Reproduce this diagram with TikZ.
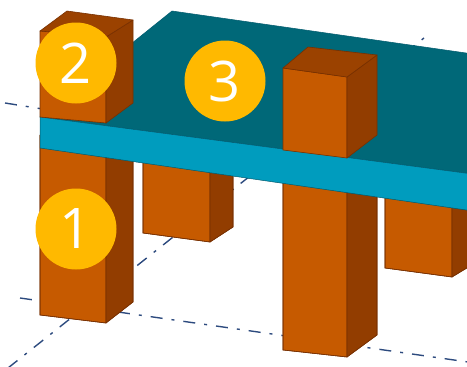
\documentclass[tikz,border=0pt]{standalone}
\usepackage{fontspec}
\setmainfont{Open Sans}
\definecolor{orF}{RGB}{198,90,0}
\definecolor{orS}{RGB}{146,61,0}
\definecolor{orT}{RGB}{155,66,0}
\definecolor{edgeC}{RGB}{120,48,0}
\definecolor{tealC}{RGB}{0,104,120}
\definecolor{bandC}{RGB}{0,156,190}
\definecolor{bandEdge}{RGB}{0,90,110}
\definecolor{badgeC}{RGB}{255,185,0}
\definecolor{gridC}{RGB}{44,74,126}
\begin{document}
\begin{tikzpicture}[x=1pt,y=-1pt,
  frontface/.style={fill=orF, draw=edgeC, line width=0.6pt, line join=round},
  sideface/.style={fill=orS, draw=edgeC, line width=0.6pt, line join=round},
  topface/.style={fill=orT, draw=edgeC, line width=0.6pt, line join=round},
  gridline/.style={draw=gridC, line width=1.4pt, dash pattern=on 12pt off 9pt on 3pt off 9pt},
  badge/.style={circle, fill=badgeC, minimum size=81pt, inner sep=0pt, text=white,
    font=\fontsize{56}{56}\selectfont}]
\useasboundingbox (0,0) rectangle (467,367);
\clip (0,0) rectangle (467,367);
% floor grid
\coordinate (g1a) at (5,103);   \coordinate (g1b) at (300,150);
\coordinate (g2a) at (20,298);  \coordinate (g2b) at (475,363);
\coordinate (g3a) at (8,368);   \coordinate (g3b) at (424,38);
\draw[gridline] (g1a) -- (g1b);
\draw[gridline] (g2a) -- (g2b);
\draw[gridline] (g3a) -- (g3b);
% bars below the plate
% bar 5 (short, middle-left)
\fill[frontface] (143,150) -- (210,150) -- (210,242) -- (143,233) -- cycle;
\fill[sideface] (210,150) -- (233,140) -- (233,227) -- (210,242) -- cycle;
\draw[edgeC, line width=0.6pt] (143,150) -- (143,233) -- (210,242) -- (233,227) -- (233,140);
% bar 6 (right)
\fill[frontface] (385,180) -- (452,180) -- (452,277) -- (385,268) -- cycle;
\fill[sideface] (452,180) -- (480,170) -- (480,260) -- (452,277) -- cycle;
\draw[edgeC, line width=0.6pt] (385,180) -- (385,268) -- (452,277) -- (480,260);
% bar 1 (tall, left)
\fill[frontface] (40,135) -- (106,135) -- (106,323) -- (40,315) -- cycle;
\fill[sideface] (106,135) -- (133,125) -- (133,302) -- (106,323) -- cycle;
\draw[edgeC, line width=0.6pt] (40,135) -- (40,315) -- (106,323) -- (133,302) -- (133,125);
% bar 4 (tall, middle)
\fill[frontface] (283,170) -- (347,170) -- (347,357) -- (283,350) -- cycle;
\fill[sideface] (347,170) -- (377,165) -- (377,335) -- (347,357) -- cycle;
\draw[edgeC, line width=0.6pt] (283,170) -- (283,350) -- (347,357) -- (377,335) -- (377,165);
% plate
\filldraw[fill=tealC, draw=bandEdge, line width=0.5pt] (40,117) -- (172,11) -- (480,55) -- (480,175) -- cycle;
\filldraw[fill=bandC, draw=bandEdge, line width=0.5pt] (40,117) -- (480,175) -- (480,212) -- (40,148) -- cycle;
% bar 2 (on plate, left)
\filldraw[frontface] (40,31) -- (106,37) -- (106,123) -- (40,117) -- cycle;
\filldraw[sideface] (106,37) -- (133,20) -- (133,103) -- (106,123) -- cycle;
\filldraw[topface] (40,31) -- (67,11) -- (133,20) -- (106,37) -- cycle;
% bar 3 (on plate, middle)
\filldraw[frontface] (283,68) -- (347,77) -- (347,158) -- (283,150) -- cycle;
\filldraw[sideface] (347,77) -- (377,55) -- (377,135) -- (347,158) -- cycle;
\filldraw[topface] (283,68) -- (308,47) -- (377,55) -- (347,77) -- cycle;
% badges
\node[badge] (b2) at (76,63) {2};
\node[badge] (b3) at (225,81) {3};
\node[badge] (b1) at (76,229) {1};
\end{tikzpicture}
\end{document}
